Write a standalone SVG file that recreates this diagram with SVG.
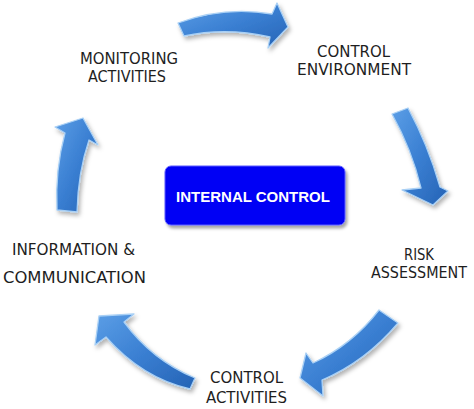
<svg xmlns="http://www.w3.org/2000/svg" width="474" height="409" viewBox="0 0 474 409">
<defs>
<linearGradient id="ag" x1="0" y1="0" x2="1" y2="1">
<stop offset="0" stop-color="#5b9ee6"/>
<stop offset="0.5" stop-color="#3a7fd2"/>
<stop offset="1" stop-color="#2563b5"/>
</linearGradient>
<filter id="sh" x="-20%" y="-20%" width="150%" height="150%">
<feDropShadow dx="2" dy="3" stdDeviation="2" flood-color="#000" flood-opacity="0.3"/>
</filter>
<filter id="bsh" x="-10%" y="-10%" width="125%" height="130%">
<feDropShadow dx="2" dy="3" stdDeviation="1.5" flood-color="#000" flood-opacity="0.35"/>
</filter>
<style>
.arrow{fill:url(#ag);stroke:#a9d0f5;stroke-width:1.3;stroke-linejoin:round;filter:url(#sh)}
.lbl{font-family:"DejaVu Sans Condensed","DejaVu Sans","Liberation Sans",sans-serif;font-stretch:condensed;font-size:16px;fill:#1e1e1e}
.box{fill:#0000f5;stroke:#5a5aff;stroke-width:1;filter:url(#bsh)}
.boxt{font-family:"Liberation Sans",Arial,sans-serif;font-size:15px;font-weight:bold;fill:#fff;text-anchor:middle}
</style>
</defs>
<rect width="474" height="409" fill="#fff"/>
<g id="connectors">
<path class="arrow" d="M178,23 Q224,6 272,14 L277,3 L288,27 L268,48 L270,37 Q226,27 184,36 Z"/>
<path class="arrow" d="M392,114 L408,108 Q428,145 440,187 L448,191 L433,205 L402,190 L421,188 Q412,150 392,114 Z"/>
<path class="arrow" d="M379,310 L398,323 Q365,362 322,380 L323,396 L300,378 L306,353 L313,363 Q352,345 379,310 Z"/>
<path class="arrow" d="M195,378 Q152,360 124,322 L134,314 L99,316 L95,345 L106,337 Q142,378 190,389 Z"/>
<path class="arrow" d="M77,212 Q78,172 89,140 L98,145 L83,118 L55,127 L65,133 Q55,170 57,210 Z"/>
</g>
<g id="internal-control">
<rect class="box" x="165" y="166" width="180" height="59" rx="6"/>
<text class="boxt" x="253" y="202">INTERNAL CONTROL</text>
</g>
<g id="monitoring-activities">
<text class="lbl" x="80" y="64" textLength="98" lengthAdjust="spacingAndGlyphs">MONITORING</text>
<text class="lbl" x="88" y="82" textLength="78" lengthAdjust="spacingAndGlyphs">ACTIVITIES</text>
</g>
<g id="control-environment">
<text class="lbl" x="317" y="57" textLength="73" lengthAdjust="spacingAndGlyphs">CONTROL</text>
<text class="lbl" x="297" y="75" textLength="114" lengthAdjust="spacingAndGlyphs">ENVIRONMENT</text>
</g>
<g id="risk-assessment">
<text class="lbl" x="404" y="260" textLength="30" lengthAdjust="spacingAndGlyphs">RISK</text>
<text class="lbl" x="371" y="278" textLength="96" lengthAdjust="spacingAndGlyphs">ASSESSMENT</text>
</g>
<g id="control-activities">
<text class="lbl" x="210" y="383" textLength="73" lengthAdjust="spacingAndGlyphs">CONTROL</text>
<text class="lbl" x="206" y="403" textLength="81" lengthAdjust="spacingAndGlyphs">ACTIVITIES</text>
</g>
<g id="information-communication">
<text class="lbl" x="12" y="255" textLength="123" lengthAdjust="spacingAndGlyphs">INFORMATION &amp;</text>
<text class="lbl" x="3" y="283" textLength="143" lengthAdjust="spacingAndGlyphs">COMMUNICATION</text>
</g>
</svg>
